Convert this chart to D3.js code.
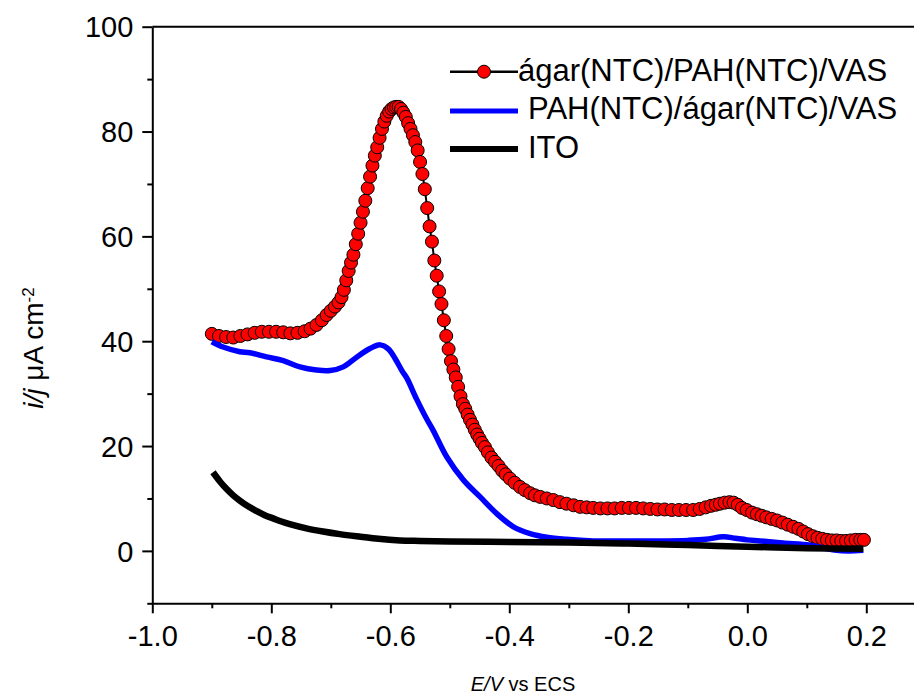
<!DOCTYPE html>
<html>
<head>
<meta charset="utf-8">
<script src="https://cdn.jsdelivr.net/npm/d3@7"></script>
<style>
  html, body { margin: 0; padding: 0; background: #fff; }
  svg { display: block; }
  text { font-family: "Liberation Sans", Arial, sans-serif; fill: #000; }
</style>
</head>
<body>
<svg id="chart" width="914" height="695"></svg>
<script>
// ---------- DATA ----------
const xTicks = [-1.0, -0.8, -0.6, -0.4, -0.2, 0.0, 0.2];
const xMinorTicks = [-0.9, -0.7, -0.5, -0.3, -0.1, 0.1];
const yTicks = [0, 20, 40, 60, 80, 100];
const yMinorTicks = [-10, 10, 30, 50, 70, 90];

const seriesNames = ["ágar(NTC)/PAH(NTC)/VAS", "PAH(NTC)/ágar(NTC)/VAS", "ITO"];

// ágar(NTC)/PAH(NTC)/VAS (red circles)
const redE = [-0.900,-0.888,-0.876,-0.864,-0.852,-0.840,-0.828,-0.816,-0.804,-0.792,-0.780,-0.768,-0.756,-0.744,-0.734,-0.724,-0.715,-0.707,-0.700,-0.693,-0.687,-0.682,-0.678,-0.674,-0.670,-0.666,-0.662,-0.658,-0.654,-0.650,-0.646,-0.642,-0.638,-0.634,-0.630,-0.626,-0.622,-0.618,-0.614,-0.610,-0.606,-0.602,-0.598,-0.594,-0.590,-0.586,-0.582,-0.578,-0.574,-0.570,-0.566,-0.562,-0.558,-0.554,-0.550,-0.546,-0.542,-0.538,-0.534,-0.530,-0.526,-0.522,-0.518,-0.514,-0.510,-0.506,-0.502,-0.498,-0.494,-0.490,-0.486,-0.482,-0.478,-0.474,-0.470,-0.466,-0.462,-0.458,-0.454,-0.450,-0.446,-0.441,-0.436,-0.430,-0.424,-0.418,-0.412,-0.406,-0.399,-0.391,-0.382,-0.374,-0.365,-0.357,-0.348,-0.337,-0.326,-0.315,-0.304,-0.292,-0.281,-0.270,-0.259,-0.247,-0.235,-0.223,-0.211,-0.199,-0.187,-0.175,-0.163,-0.151,-0.139,-0.127,-0.115,-0.103,-0.091,-0.080,-0.070,-0.061,-0.053,-0.046,-0.038,-0.030,-0.023,-0.016,-0.009,-0.001,0.008,0.016,0.024,0.032,0.041,0.050,0.059,0.068,0.077,0.086,0.094,0.102,0.110,0.118,0.126,0.134,0.142,0.150,0.158,0.166,0.174,0.182,0.190,0.196];
const redI = [41.4,41.0,40.8,40.7,41.0,41.3,41.6,41.8,41.8,41.8,41.7,41.5,41.6,41.9,42.4,43.1,44.0,45.0,45.8,46.6,47.4,48.4,49.8,51.6,53.4,55.0,56.5,58.5,60.5,62.6,64.7,66.8,69.2,71.4,73.5,75.4,77.0,78.8,80.5,81.9,83.0,83.8,84.3,84.6,84.7,84.7,84.3,83.6,82.8,81.6,80.5,79.3,78.0,76.4,74.2,71.9,69.0,65.4,61.9,59.0,55.4,52.5,49.5,47.1,44.0,41.0,38.5,36.2,34.6,33.1,31.3,29.5,28.0,27.1,26.0,25.0,24.1,23.1,22.2,21.4,20.6,19.8,18.8,17.8,17.0,16.2,15.3,14.6,13.8,13.0,12.2,11.6,11.0,10.6,10.3,10.0,9.7,9.3,9.0,8.7,8.4,8.3,8.2,8.1,8.1,8.1,8.2,8.2,8.2,8.1,8.0,7.9,7.9,7.8,7.8,7.8,7.8,8.0,8.3,8.6,8.8,9.0,9.2,9.3,9.2,8.8,8.2,7.8,7.3,7.0,6.7,6.4,6.1,5.8,5.4,5.0,4.6,4.2,3.7,3.2,2.8,2.5,2.3,2.1,2.0,2.0,1.9,1.9,2.0,2.1,2.1,2.1];

// PAH(NTC)/ágar(NTC)/VAS (blue line)
const blueE = [-0.900,-0.881,-0.853,-0.836,-0.808,-0.780,-0.752,-0.724,-0.701,-0.679,-0.656,-0.634,-0.617,-0.603,-0.592,-0.580,-0.572,-0.556,-0.539,-0.528,-0.505,-0.477,-0.449,-0.421,-0.393,-0.365,-0.337,-0.304,-0.259,-0.200,-0.150,-0.100,-0.070,-0.040,-0.020,0.000,0.021,0.060,0.105,0.130,0.150,0.170,0.195];
const blueI = [39.9,38.9,38.0,37.8,37.0,36.3,35.1,34.5,34.4,35.1,37.0,38.6,39.3,38.5,36.7,34.3,32.9,29.0,25.2,23.0,17.9,13.5,10.3,7.1,4.6,3.3,2.6,2.2,1.9,1.9,1.9,2.0,2.2,2.7,2.4,2.1,1.9,1.5,1.1,0.5,0.1,0.0,0.1];

// ITO (black line)
const itoE = [-0.898,-0.886,-0.875,-0.864,-0.853,-0.839,-0.825,-0.811,-0.797,-0.783,-0.769,-0.741,-0.713,-0.685,-0.650,-0.620,-0.584,-0.550,-0.500,-0.400,-0.300,-0.200,-0.100,0.000,0.100,0.195];
const itoI = [15.0,13.2,11.8,10.6,9.6,8.5,7.6,6.8,6.2,5.6,5.1,4.3,3.7,3.2,2.7,2.3,2.0,1.9,1.8,1.7,1.6,1.4,1.1,0.8,0.5,0.4];

// ---------- CHART ----------
const svg = d3.select("#chart");
const x = d3.scaleLinear().domain([-1.0, 0.28]).range([152.3, 913.9]);
const y = d3.scaleLinear().domain([-10, 100]).range([603.3, 26.7]);
const TICK_FONT = 29;
const LEG_FONT = 31;

const zip = (a, b) => a.map((v, i) => [v, b[i]]);
const red = zip(redE, redI), blue = zip(blueE, blueI), ito = zip(itoE, itoI);

const plot = svg.append("g");
const lineLin = d3.line().x(d => x(d[0])).y(d => y(d[1]));
const lineSmooth = d3.line().x(d => x(d[0])).y(d => y(d[1])).curve(d3.curveCatmullRom.alpha(0.5));

// red series: connecting line + circles
plot.append("path").datum(red).attr("d", lineLin)
  .attr("fill", "none").attr("stroke", "#000").attr("stroke-width", 2);
plot.selectAll("circle.red").data(red).enter().append("circle")
  .attr("class", "red")
  .attr("cx", d => x(d[0])).attr("cy", d => y(d[1])).attr("r", 6.5)
  .attr("fill", "#ff0000").attr("stroke", "#000").attr("stroke-width", 1);

// blue
plot.append("path").datum(blue).attr("d", lineSmooth)
  .attr("fill", "none").attr("stroke", "#0000ff").attr("stroke-width", 5.5)
  .attr("stroke-linejoin", "round");
// ITO
plot.append("path").datum(ito).attr("d", lineSmooth)
  .attr("fill", "none").attr("stroke", "#000").attr("stroke-width", 6.5)
  .attr("stroke-linejoin", "round");

// ---------- AXES ----------
function styleAxis(g) {
  g.select(".domain").attr("stroke-width", 2).attr("stroke", "#000");
  g.selectAll(".tick line").attr("stroke-width", 2).attr("stroke", "#000");
  g.selectAll("text").style("font-family", '"Liberation Sans", Arial, sans-serif')
    .style("font-size", TICK_FONT + "px").attr("fill", "#000");
}

const xAxis = svg.append("g").attr("transform", `translate(0,${y(-10)})`)
  .call(d3.axisBottom(x).tickValues(xTicks).tickSize(10).tickSizeOuter(0)
    .tickFormat(d => d.toFixed(1)));
styleAxis(xAxis);
xAxis.selectAll("text").attr("y", 43).attr("dy", 0);

svg.append("g").attr("transform", `translate(0,${y(-10)})`)
  .call(d3.axisBottom(x).tickValues(xMinorTicks).tickSize(5).tickFormat(""))
  .call(g => g.select(".domain").remove())
  .call(styleAxis);

const yAxis = svg.append("g").attr("transform", `translate(${x(-1.0)},0)`)
  .call(d3.axisLeft(y).tickValues(yTicks).tickSize(10).tickSizeOuter(0)
    .tickFormat(d => String(d)));
styleAxis(yAxis);
yAxis.selectAll("text").attr("x", -19).attr("dy", "0.35em");

svg.append("g").attr("transform", `translate(${x(-1.0)},0)`)
  .call(d3.axisLeft(y).tickValues(yMinorTicks).tickSize(5).tickFormat(""))
  .call(g => g.select(".domain").remove())
  .call(styleAxis);

// top frame line
svg.append("line").attr("x1", x(-1.0)).attr("x2", 914).attr("y1", y(100)).attr("y2", y(100))
  .attr("stroke", "#000").attr("stroke-width", 2);

// axis titles
const yl = svg.append("text").attr("transform", "translate(43,348) rotate(-90)")
  .attr("text-anchor", "middle").style("font-size", "28px");
yl.append("tspan").style("font-style", "italic").text("i/j");
yl.append("tspan").text(" \u03bcA cm");
yl.append("tspan").attr("baseline-shift", "super").style("font-size", "17px").text("-2");

const xl = svg.append("text").attr("x", 523).attr("y", 691)
  .attr("text-anchor", "middle").style("font-size", "20px");
xl.append("tspan").style("font-style", "italic").text("E/V");
xl.append("tspan").text(" vs ECS");

// ---------- LEGEND ----------
const leg = svg.append("g");
const rows = [
  {name: seriesNames[0], ly: 71.7, ty: 81, tx: 518, stroke: "#000", sw: 2.5, marker: true},
  {name: seriesNames[1], ly: 111, ty: 118.5, tx: 528, stroke: "#0000ff", sw: 5, marker: false},
  {name: seriesNames[2], ly: 149, ty: 158, tx: 528, stroke: "#000", sw: 6, marker: false}
];
rows.forEach(r => {
  leg.append("line").attr("x1", 450).attr("x2", 518).attr("y1", r.ly).attr("y2", r.ly)
    .attr("stroke", r.stroke).attr("stroke-width", r.sw);
  if (r.marker) {
    leg.append("circle").attr("cx", 484).attr("cy", r.ly).attr("r", 6.5)
      .attr("fill", "#ff0000").attr("stroke", "#000").attr("stroke-width", 1);
  }
  leg.append("text").attr("x", r.tx).attr("y", r.ty).style("font-size", LEG_FONT + "px").text(r.name);
});
</script>
</body>
</html>
